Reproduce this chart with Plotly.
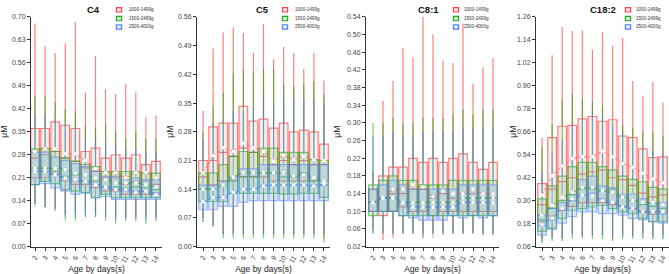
import plotly.graph_objects as go

DAYS = list(range(2, 15))
GROUPS = ["1000-1499g", "1500-2499g", "2500-4000g"]
PANEL_TITLES = ["C4", "C5", "C8:1", "C18:2"]

# ---------------- C4 ----------------
C4_G1_LO = [0.13, 0.12, 0.12, 0.10, 0.10, 0.10, 0.10, 0.09, 0.09, 0.09, 0.09, 0.09, 0.09]
C4_G1_Q1 = [0.21, 0.21, 0.22, 0.20, 0.19, 0.19, 0.18, 0.17, 0.17, 0.16, 0.16, 0.16, 0.16]
C4_G1_MED = [0.27, 0.28, 0.29, 0.27, 0.26, 0.24, 0.23, 0.21, 0.21, 0.19, 0.20, 0.20, 0.19]
C4_G1_Q3 = [0.36, 0.36, 0.38, 0.37, 0.36, 0.29, 0.30, 0.27, 0.28, 0.27, 0.28, 0.25, 0.26]
C4_G1_HI = [0.68, 0.61, 0.59, 0.62, 0.685, 0.47, 0.58, 0.48, 0.465, 0.495, 0.47, 0.395, 0.40]
C4_G1_MEAN = [0.29, 0.298, 0.298, 0.283, 0.283, 0.263, 0.238, 0.226, 0.226, 0.209, 0.226, 0.226, 0.209]

C4_G2_LO = [0.13, 0.12, 0.11, 0.08, 0.08, 0.09, 0.09, 0.08, 0.07, 0.08, 0.08, 0.07, 0.08]
C4_G2_Q1 = [0.189, 0.199, 0.192, 0.174, 0.169, 0.164, 0.149, 0.159, 0.149, 0.149, 0.149, 0.149, 0.149]
C4_G2_MED = [0.239, 0.239, 0.229, 0.214, 0.219, 0.199, 0.199, 0.184, 0.182, 0.179, 0.182, 0.179, 0.174]
C4_G2_Q3 = [0.298, 0.30, 0.29, 0.271, 0.261, 0.251, 0.244, 0.229, 0.229, 0.229, 0.229, 0.224, 0.224]
C4_G2_HI = [0.46, 0.46, 0.44, 0.42, 0.41, 0.37, 0.365, 0.37, 0.35, 0.33, 0.35, 0.33, 0.33]
C4_G2_MEAN = [0.239, 0.24, 0.239, 0.234, 0.224, 0.219, 0.209, 0.204, 0.194, 0.194, 0.194, 0.189, 0.182]

C4_G3_LO = [0.12, 0.12, 0.11, 0.09, 0.09, 0.09, 0.09, 0.09, 0.08, 0.08, 0.08, 0.08, 0.08]
C4_G3_Q1 = [0.189, 0.192, 0.179, 0.169, 0.159, 0.164, 0.149, 0.152, 0.144, 0.144, 0.144, 0.144, 0.144]
C4_G3_MED = [0.23, 0.23, 0.22, 0.21, 0.20, 0.20, 0.19, 0.18, 0.175, 0.17, 0.17, 0.17, 0.165]
C4_G3_Q3 = [0.288, 0.288, 0.273, 0.263, 0.253, 0.244, 0.229, 0.214, 0.214, 0.204, 0.209, 0.204, 0.204]
C4_G3_HI = [0.40, 0.40, 0.39, 0.37, 0.36, 0.33, 0.33, 0.32, 0.31, 0.30, 0.30, 0.29, 0.29]
C4_G3_MEAN = [0.229, 0.229, 0.219, 0.209, 0.204, 0.199, 0.189, 0.182, 0.174, 0.174, 0.166, 0.169, 0.159]

# ---------------- C5 ----------------
C5_G1_LO = [0.07, 0.05, 0.03, 0.03, 0.03, 0.03, 0.03, 0.03, 0.03, 0.03, 0.03, 0.03, 0.01]
C5_G1_Q1 = [0.14, 0.15, 0.16, 0.16, 0.17, 0.17, 0.17, 0.16, 0.16, 0.16, 0.16, 0.16, 0.16]
C5_G1_MED = [0.17, 0.21, 0.23, 0.22, 0.24, 0.23, 0.22, 0.20, 0.21, 0.20, 0.21, 0.20, 0.20]
C5_G1_Q3 = [0.21, 0.292, 0.301, 0.301, 0.342, 0.306, 0.311, 0.289, 0.301, 0.28, 0.284, 0.28, 0.25]
C5_G1_HI = [0.331, 0.483, 0.522, 0.534, 0.521, 0.473, 0.542, 0.457, 0.487, 0.472, 0.433, 0.472, 0.405]
C5_G1_MEAN = [0.18, 0.222, 0.241, 0.232, 0.252, 0.241, 0.232, 0.208, 0.222, 0.212, 0.22, 0.212, 0.21]

C5_G2_LO = [0.06, 0.05, 0.02, 0.02, 0.02, 0.02, 0.02, 0.02, 0.02, 0.02, 0.02, 0.02, 0.02]
C5_G2_Q1 = [0.11, 0.11, 0.11, 0.13, 0.13, 0.13, 0.13, 0.13, 0.128, 0.128, 0.13, 0.13, 0.12]
C5_G2_MED = [0.14, 0.14, 0.15, 0.16, 0.17, 0.17, 0.18, 0.18, 0.17, 0.17, 0.18, 0.16, 0.15]
C5_G2_Q3 = [0.18, 0.18, 0.20, 0.22, 0.232, 0.23, 0.24, 0.24, 0.23, 0.23, 0.23, 0.212, 0.21]
C5_G2_HI = [0.28, 0.341, 0.375, 0.423, 0.432, 0.423, 0.432, 0.432, 0.395, 0.39, 0.395, 0.403, 0.371]
C5_G2_MEAN = [0.14, 0.14, 0.15, 0.17, 0.18, 0.18, 0.18, 0.18, 0.18, 0.172, 0.176, 0.168, 0.16]

C5_G3_LO = [0.06, 0.05, 0.03, 0.03, 0.03, 0.03, 0.03, 0.03, 0.03, 0.03, 0.03, 0.03, 0.03]
C5_G3_Q1 = [0.09, 0.09, 0.098, 0.098, 0.108, 0.112, 0.112, 0.112, 0.112, 0.112, 0.112, 0.112, 0.112]
C5_G3_MED = [0.11, 0.12, 0.12, 0.13, 0.14, 0.14, 0.15, 0.15, 0.15, 0.15, 0.15, 0.15, 0.15]
C5_G3_Q3 = [0.15, 0.15, 0.16, 0.17, 0.19, 0.19, 0.20, 0.20, 0.20, 0.20, 0.20, 0.20, 0.20]
C5_G3_HI = [0.26, 0.30, 0.31, 0.33, 0.33, 0.34, 0.37, 0.35, 0.37, 0.36, 0.36, 0.36, 0.35]
C5_G3_MEAN = [0.11, 0.12, 0.12, 0.132, 0.14, 0.14, 0.148, 0.15, 0.15, 0.15, 0.15, 0.148, 0.152]

# ---------------- C8:1 ----------------
C81_G1_LO = [0.06, 0.035, 0.04, 0.05, 0.05, 0.04, 0.05, 0.05, 0.05, 0.05, 0.05, 0.045, 0.045]
C81_G1_Q1 = [0.10, 0.09, 0.10, 0.11, 0.10, 0.10, 0.09, 0.10, 0.10, 0.10, 0.10, 0.10, 0.10]
C81_G1_MED = [0.12, 0.13, 0.14, 0.14, 0.15, 0.15, 0.13, 0.14, 0.13, 0.14, 0.14, 0.13, 0.13]
C81_G1_Q3 = [0.15, 0.18, 0.20, 0.20, 0.22, 0.211, 0.22, 0.211, 0.22, 0.23, 0.211, 0.195, 0.211]
C81_G1_HI = [0.19, 0.35, 0.395, 0.47, 0.448, 0.54, 0.501, 0.441, 0.436, 0.525, 0.389, 0.426, 0.447]
C81_G1_MEAN = [0.12, 0.13, 0.15, 0.15, 0.16, 0.155, 0.133, 0.146, 0.14, 0.14, 0.15, 0.14, 0.14]

C81_G2_LO = [0.05, 0.05, 0.05, 0.05, 0.05, 0.05, 0.05, 0.05, 0.05, 0.05, 0.05, 0.05, 0.05]
C81_G2_Q1 = [0.09, 0.10, 0.10, 0.09, 0.09, 0.09, 0.09, 0.09, 0.09, 0.09, 0.09, 0.09, 0.09]
C81_G2_MED = [0.12, 0.13, 0.13, 0.12, 0.12, 0.12, 0.12, 0.12, 0.12, 0.13, 0.13, 0.13, 0.13]
C81_G2_Q3 = [0.16, 0.17, 0.18, 0.17, 0.17, 0.16, 0.16, 0.16, 0.17, 0.17, 0.17, 0.17, 0.17]
C81_G2_HI = [0.30, 0.30, 0.31, 0.30, 0.30, 0.31, 0.31, 0.31, 0.32, 0.33, 0.32, 0.33, 0.33]
C81_G2_MEAN = [0.12, 0.13, 0.13, 0.12, 0.12, 0.12, 0.12, 0.12, 0.12, 0.13, 0.13, 0.13, 0.13]

C81_G3_LO = [0.05, 0.05, 0.05, 0.05, 0.05, 0.04, 0.04, 0.045, 0.05, 0.05, 0.05, 0.05, 0.05]
C81_G3_Q1 = [0.10, 0.10, 0.10, 0.09, 0.085, 0.08, 0.08, 0.08, 0.09, 0.085, 0.09, 0.085, 0.09]
C81_G3_MED = [0.12, 0.13, 0.13, 0.12, 0.11, 0.11, 0.11, 0.11, 0.11, 0.12, 0.12, 0.12, 0.12]
C81_G3_Q3 = [0.15, 0.16, 0.17, 0.16, 0.15, 0.15, 0.15, 0.15, 0.15, 0.16, 0.16, 0.16, 0.16]
C81_G3_HI = [0.27, 0.27, 0.28, 0.27, 0.27, 0.28, 0.28, 0.28, 0.28, 0.29, 0.29, 0.29, 0.29]
C81_G3_MEAN = [0.12, 0.13, 0.13, 0.12, 0.11, 0.11, 0.11, 0.11, 0.11, 0.12, 0.12, 0.12, 0.12]

# ---------------- C18:2 ----------------
C182_G1_LO = [0.10, 0.11, 0.10, 0.13, 0.11, 0.12, 0.12, 0.10, 0.12, 0.12, 0.13, 0.12, 0.12]
C182_G1_Q1 = [0.19, 0.22, 0.25, 0.27, 0.29, 0.29, 0.29, 0.28, 0.27, 0.26, 0.24, 0.23, 0.24]
C182_G1_MED = [0.28, 0.36, 0.40, 0.42, 0.44, 0.45, 0.46, 0.42, 0.41, 0.38, 0.34, 0.32, 0.33]
C182_G1_Q3 = [0.389, 0.63, 0.689, 0.694, 0.728, 0.74, 0.715, 0.723, 0.638, 0.63, 0.571, 0.525, 0.529]
C182_G1_HI = [0.627, 1.06, 1.207, 1.187, 1.19, 1.089, 1.18, 1.11, 1.15, 0.926, 0.846, 0.92, 0.812]
C182_G1_MEAN = [0.33, 0.43, 0.481, 0.52, 0.529, 0.529, 0.559, 0.529, 0.495, 0.475, 0.444, 0.414, 0.394]

C182_G2_LO = [0.08, 0.09, 0.09, 0.10, 0.10, 0.10, 0.10, 0.09, 0.10, 0.10, 0.10, 0.10, 0.10]
C182_G2_Q1 = [0.14, 0.157, 0.208, 0.25, 0.259, 0.267, 0.275, 0.259, 0.242, 0.233, 0.208, 0.19, 0.19]
C182_G2_MED = [0.20, 0.26, 0.30, 0.33, 0.36, 0.36, 0.35, 0.36, 0.32, 0.30, 0.28, 0.27, 0.26]
C182_G2_Q3 = [0.31, 0.377, 0.428, 0.478, 0.50, 0.50, 0.478, 0.461, 0.428, 0.411, 0.399, 0.37, 0.36]
C182_G2_HI = [0.58, 0.70, 0.83, 0.86, 0.83, 0.82, 0.80, 0.72, 0.70, 0.68, 0.66, 0.66, 0.64]
C182_G2_MEAN = [0.225, 0.276, 0.318, 0.343, 0.368, 0.368, 0.352, 0.343, 0.318, 0.301, 0.292, 0.29, 0.28]

C182_G3_LO = [0.08, 0.10, 0.10, 0.12, 0.12, 0.12, 0.12, 0.11, 0.11, 0.11, 0.11, 0.10, 0.10]
C182_G3_Q1 = [0.12, 0.15, 0.183, 0.217, 0.242, 0.242, 0.233, 0.233, 0.225, 0.208, 0.20, 0.19, 0.183]
C182_G3_MED = [0.17, 0.20, 0.25, 0.30, 0.33, 0.34, 0.31, 0.29, 0.27, 0.26, 0.24, 0.24, 0.23]
C182_G3_Q3 = [0.225, 0.26, 0.29, 0.335, 0.41, 0.428, 0.377, 0.368, 0.335, 0.335, 0.31, 0.29, 0.29]
C182_G3_HI = [0.45, 0.55, 0.62, 0.70, 0.72, 0.75, 0.74, 0.70, 0.66, 0.62, 0.58, 0.56, 0.55]
C182_G3_MEAN = [0.174, 0.208, 0.259, 0.31, 0.33, 0.326, 0.301, 0.292, 0.267, 0.259, 0.242, 0.242, 0.242]

# y-axis ranges and tick steps per panel
Y_MIN = [0.00, 0.00, 0.02, 0.06]
Y_MAX = [0.70, 0.56, 0.54, 1.26]
Y_STEP = [0.07, 0.07, 0.04, 0.12]

PANEL_DATA = [
    [(C4_G1_LO, C4_G1_Q1, C4_G1_MED, C4_G1_Q3, C4_G1_HI, C4_G1_MEAN),
     (C4_G2_LO, C4_G2_Q1, C4_G2_MED, C4_G2_Q3, C4_G2_HI, C4_G2_MEAN),
     (C4_G3_LO, C4_G3_Q1, C4_G3_MED, C4_G3_Q3, C4_G3_HI, C4_G3_MEAN)],
    [(C5_G1_LO, C5_G1_Q1, C5_G1_MED, C5_G1_Q3, C5_G1_HI, C5_G1_MEAN),
     (C5_G2_LO, C5_G2_Q1, C5_G2_MED, C5_G2_Q3, C5_G2_HI, C5_G2_MEAN),
     (C5_G3_LO, C5_G3_Q1, C5_G3_MED, C5_G3_Q3, C5_G3_HI, C5_G3_MEAN)],
    [(C81_G1_LO, C81_G1_Q1, C81_G1_MED, C81_G1_Q3, C81_G1_HI, C81_G1_MEAN),
     (C81_G2_LO, C81_G2_Q1, C81_G2_MED, C81_G2_Q3, C81_G2_HI, C81_G2_MEAN),
     (C81_G3_LO, C81_G3_Q1, C81_G3_MED, C81_G3_Q3, C81_G3_HI, C81_G3_MEAN)],
    [(C182_G1_LO, C182_G1_Q1, C182_G1_MED, C182_G1_Q3, C182_G1_HI, C182_G1_MEAN),
     (C182_G2_LO, C182_G2_Q1, C182_G2_MED, C182_G2_Q3, C182_G2_HI, C182_G2_MEAN),
     (C182_G3_LO, C182_G3_Q1, C182_G3_MED, C182_G3_Q3, C182_G3_HI, C182_G3_MEAN)],
]

# ---------------- styling / layout ----------------
W, H = 669, 274
LINE_COLORS = ["rgba(255,40,40,0.6)", "rgba(0,170,0,0.55)", "rgba(80,120,255,0.5)"]
FILL_COLORS = ["rgba(255,140,140,0.16)", "rgba(110,200,80,0.24)", "rgba(100,170,255,0.26)"]
MEAN_COLORS = ["rgba(240,90,90,0.95)", "rgba(40,160,40,0.95)", "rgba(80,120,240,0.95)"]
ICON_COLORS = ["rgb(255,70,70)", "rgb(30,170,30)", "rgb(80,130,255)"]
ICON_FILLS = ["rgba(255,140,140,0.3)", "rgba(110,200,80,0.35)", "rgba(100,170,255,0.35)"]

# pixel geometry of each panel: left edge, right edge
PANEL_X = [(31, 162), (197, 330), (366, 499), (536, 669)]
X_RANGES = [(1.6, 14.6), (1.4, 14.6), (1.3, 14.6), (1.4, 14.6)]
PLOT_TOP, PLOT_BOTTOM = 13.3, 249.0
TITLE_X = [93, 262, 428, 603]
YTITLE_X = [4, 170, 337, 513]
LEG_ICON_X = [119, 285, 456, 628]
LEG_TEXT_X = [127, 293, 462, 634]
LEG_ROWS_Y = [6, 15, 23.5]

fig = go.Figure()
layout = dict(
    width=W, height=H, margin=dict(l=0, r=0, t=0, b=0),
    paper_bgcolor="white", plot_bgcolor="white",
    boxmode="overlay", showlegend=False,
    font=dict(family="Liberation Sans, Arial, sans-serif", color="#333333"),
)
annotations = []
shapes = []

for p in range(4):
    suffix = "" if p == 0 else str(p + 1)
    xa, ya = "x" + suffix, "y" + suffix
    for g in range(3):
        lo, q1, med, q3, hi, mean = PANEL_DATA[p][g]
        fig.add_trace(go.Box(
            x=DAYS, q1=q1, median=med, q3=q3, lowerfence=lo, upperfence=hi,
            name=GROUPS[g], xaxis=xa, yaxis=ya, width=0.86,
            line=dict(color=LINE_COLORS[g], width=1.2), fillcolor=FILL_COLORS[g],
            whiskerwidth=0, boxpoints=False, hoverinfo="skip", showlegend=False,
        ))
    for g in range(3):
        mean = PANEL_DATA[p][g][5]
        fig.add_trace(go.Scatter(
            x=DAYS, y=mean, mode="lines+markers", xaxis=xa, yaxis=ya,
            line=dict(color=MEAN_COLORS[g], width=0.8, dash="3px,2px"),
            marker=dict(color="white", size=3.5, symbol="circle"),
            hoverinfo="skip", showlegend=False,
        ))

    x0, x1 = PANEL_X[p]
    tickvals = []
    v = Y_MIN[p]
    while v <= Y_MAX[p] + 1e-9:
        tickvals.append(round(v, 4))
        v += Y_STEP[p]
    layout["xaxis" + suffix] = dict(
        domain=[x0 / W, x1 / W], anchor=ya, range=list(X_RANGES[p]),
        tickmode="array", tickvals=DAYS, ticktext=[str(d) for d in DAYS],
        tickangle=-60, tickfont=dict(size=7, color="#444444"),
        showline=True, linecolor="#333333", linewidth=1,
        ticks="outside", ticklen=3, tickcolor="#333333", showgrid=False, zeroline=False,
        title=dict(text="Age by days(s)", font=dict(size=8.5, color="#222222"), standoff=4),
    )
    layout["yaxis" + suffix] = dict(
        domain=[1 - PLOT_BOTTOM / H, 1 - PLOT_TOP / H], anchor=xa,
        range=[Y_MIN[p], Y_MAX[p]], tickmode="array", tickvals=tickvals,
        ticktext=["%.2f" % t for t in tickvals], tickfont=dict(size=7, color="#444444"),
        showline=True, linecolor="#333333", linewidth=1,
        ticks="outside", ticklen=3, tickcolor="#333333", showgrid=False, zeroline=False,
    )
    # panel title
    annotations.append(dict(
        text="<b>%s</b>" % PANEL_TITLES[p], x=TITLE_X[p] / W, y=1 - 6 / H,
        xref="paper", yref="paper", showarrow=False, xanchor="center", yanchor="middle",
        font=dict(size=9.5, color="#111111"),
    ))
    # y title
    annotations.append(dict(
        text="μM", x=YTITLE_X[p] / W, y=1 - 131 / H, xref="paper", yref="paper",
        showarrow=False, textangle=-90, xanchor="center", yanchor="middle",
        font=dict(size=8.5, color="#222222"),
    ))
    # legend (per panel)
    for g in range(3):
        cy = LEG_ROWS_Y[g]
        cx = LEG_ICON_X[p]
        shapes.append(dict(
            type="rect", xref="paper", yref="paper",
            x0=(cx - 2.6) / W, x1=(cx + 2.6) / W, y0=1 - (cy + 2.2) / H, y1=1 - (cy - 2.2) / H,
            line=dict(color=ICON_COLORS[g], width=1.2), fillcolor=ICON_FILLS[g],
        ))
        shapes.append(dict(
            type="circle", xref="paper", yref="paper",
            x0=(cx - 0.9) / W, x1=(cx + 0.9) / W, y0=1 - (cy + 0.9) / H, y1=1 - (cy - 0.9) / H,
            line=dict(width=0), fillcolor="white",
        ))
        annotations.append(dict(
            text=GROUPS[g], x=LEG_TEXT_X[p] / W, y=1 - cy / H, xref="paper", yref="paper",
            showarrow=False, xanchor="left", yanchor="middle",
            font=dict(size=4.6, color="#333333"),
        ))

layout["annotations"] = annotations
layout["shapes"] = shapes
fig.update_layout(**layout)
fig.write_html("out.html")
